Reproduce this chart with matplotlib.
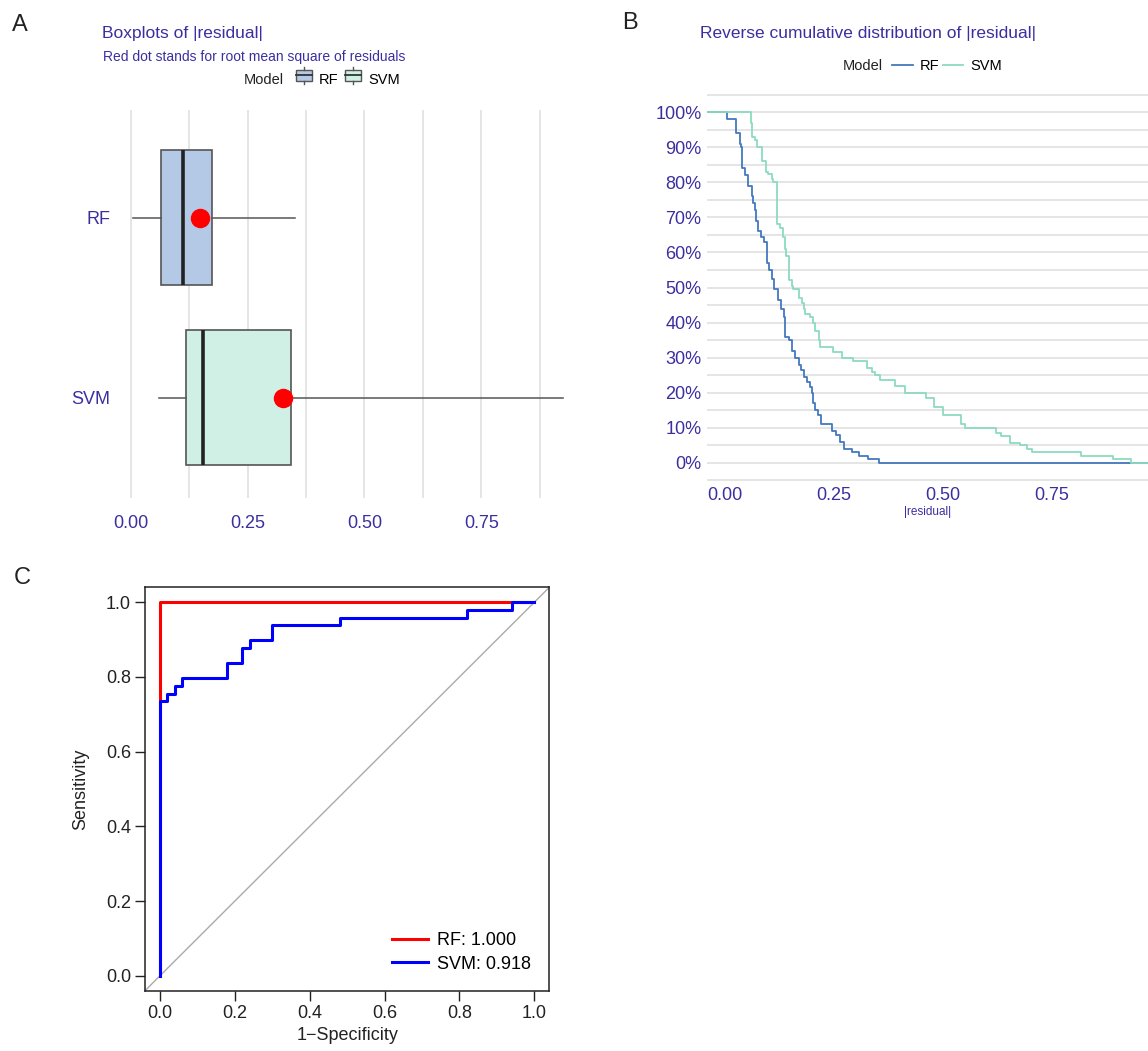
import numpy as np
import matplotlib
matplotlib.use("Agg")
import matplotlib.pyplot as plt
from matplotlib.lines import Line2D
from matplotlib.patches import Rectangle
from matplotlib.legend_handler import HandlerBase

# -----------------------------
# Data
# -----------------------------
MODELS = ["RF", "SVM"]

# boxplot stats of |residual|
BOX_WHISLO = [0.006, 0.060]
BOX_Q1 = [0.065, 0.119]
BOX_MED = [0.112, 0.155]
BOX_Q3 = [0.175, 0.342]
BOX_WHISHI = [0.351, 0.925]
RMSE = [0.148, 0.326]

# reverse cumulative distribution (step breakpoints, value after each break)
RF_X = [0.006, 0.027, 0.035, 0.038, 0.040, 0.041, 0.048, 0.055, 0.062, 0.066,
        0.069, 0.072, 0.077, 0.083, 0.091, 0.098, 0.103, 0.109, 0.113, 0.122,
        0.130, 0.136, 0.139, 0.148, 0.155, 0.161, 0.170, 0.175, 0.182, 0.188,
        0.195, 0.200, 0.203, 0.207, 0.214, 0.222, 0.247, 0.255, 0.265, 0.273,
        0.292, 0.307, 0.328, 0.355]
RF_Y = [0.98, 0.94, 0.91, 0.90, 0.87, 0.84, 0.82, 0.79, 0.76, 0.74,
        0.72, 0.69, 0.66, 0.645, 0.63, 0.57, 0.55, 0.525, 0.495, 0.465,
        0.44, 0.415, 0.36, 0.35, 0.32, 0.30, 0.28, 0.265, 0.245, 0.23,
        0.215, 0.20, 0.17, 0.15, 0.135, 0.11, 0.09, 0.08, 0.06, 0.04,
        0.03, 0.02, 0.01, 0.0]
SVM_X = [0.060, 0.064, 0.071, 0.075, 0.086, 0.096, 0.100, 0.108, 0.112, 0.121,
         0.128, 0.134, 0.138, 0.141, 0.147, 0.154, 0.158, 0.170, 0.178, 0.183,
         0.185, 0.197, 0.203, 0.208, 0.216, 0.219, 0.249, 0.269, 0.294, 0.326,
         0.337, 0.345, 0.356, 0.390, 0.413, 0.462, 0.481, 0.500, 0.542, 0.552,
         0.621, 0.634, 0.655, 0.676, 0.692, 0.705, 0.817, 0.890, 0.932]
SVM_Y = [0.97, 0.93, 0.92, 0.90, 0.86, 0.83, 0.825, 0.81, 0.80, 0.68,
         0.67, 0.645, 0.61, 0.59, 0.52, 0.505, 0.495, 0.47, 0.455, 0.44,
         0.425, 0.415, 0.40, 0.375, 0.35, 0.33, 0.315, 0.30, 0.29, 0.27,
         0.26, 0.25, 0.235, 0.22, 0.20, 0.185, 0.16, 0.135, 0.11, 0.10,
         0.085, 0.075, 0.055, 0.05, 0.04, 0.03, 0.02, 0.01, 0.0]

# ROC curves
RF_FPR = [0.0, 0.0, 1.0]
RF_TPR = [0.0, 1.0, 1.0]
SVM_FPR = [0.0, 0.0, 0.02, 0.04, 0.06, 0.18, 0.22, 0.24, 0.30, 0.48, 0.82, 0.94, 1.00]
SVM_TPR = [0.0, 0.735, 0.755, 0.776, 0.796, 0.837, 0.878, 0.898, 0.939, 0.959, 0.980, 1.0, 1.0]
AUC = [1.000, 0.918]

# -----------------------------
# Style
# -----------------------------
plt.rcParams["font.family"] = ["Liberation Sans", "DejaVu Sans"]
DRWHY = "#3b2fa0"
GRID = "#e3e3e3"
LINE_COLS = ["#4378bf", "#8bdcbe"]
BOX_FILLS = ["#b4c9e5", "#d1f0e5"]
W, H = 1148, 1051


def fx(px):
    return px / W


def fy(py):
    return 1 - py / H


class HandlerBoxKey(HandlerBase):
    """Small boxplot glyph for the legend."""
    def create_artists(self, legend, orig, xd, yd, width, height, fontsize, trans):
        fc = orig.get_facecolor()
        cx = xd + width / 2
        x0, x1 = xd + width * 0.08, xd + width * 0.92
        y0, y1 = yd + height * 0.12, yd + height * 0.88
        box = Rectangle((x0, y0), x1 - x0, y1 - y0,
                        facecolor=fc, edgecolor="#555555", lw=1.0, transform=trans)
        mid = Line2D([x0, x1], [yd + height / 2] * 2,
                     color="#333333", lw=1.3, transform=trans)
        top = Line2D([cx, cx], [y1, yd + height * 1.1],
                     color="#555555", lw=1.0, transform=trans)
        bot = Line2D([cx, cx], [yd - height * 0.1, y0],
                     color="#555555", lw=1.0, transform=trans)
        return [box, mid, top, bot]


def plot_boxplots(fig):
    ax = fig.add_axes([fx(112), fy(498), fx(472), 388 / H])
    stats = []
    for i, m in enumerate(MODELS):
        stats.append(dict(label=m, whislo=BOX_WHISLO[i], q1=BOX_Q1[i], med=BOX_MED[i],
                          q3=BOX_Q3[i], whishi=BOX_WHISHI[i], fliers=[]))
    pos = [2, 1]
    bp = ax.bxp(stats, positions=pos, widths=0.75, orientation="horizontal",
                patch_artist=True, showcaps=False, showfliers=False,
                boxprops=dict(edgecolor="#555555", linewidth=1.2),
                whiskerprops=dict(color="#555555", linewidth=1.1),
                medianprops=dict(color="#222222", linewidth=2.6))
    for patch, c in zip(bp["boxes"], BOX_FILLS):
        patch.set_facecolor(c)
    ax.plot(RMSE, pos, "o", color="red", markersize=13, zorder=5)

    ax.set_xlim(-0.04, 0.97)
    ax.set_ylim(0.444, 2.6)
    ax.set_xticks([0, 0.25, 0.5, 0.75])
    ax.set_xticklabels(["0.00", "0.25", "0.50", "0.75"])
    ax.set_xticks(np.arange(0.125, 0.9, 0.25), minor=True)
    ax.set_yticks(pos)
    ax.set_yticklabels(MODELS)
    ax.grid(axis="x", which="both", color=GRID, lw=1.3)
    ax.set_axisbelow(True)
    ax.tick_params(which="both", length=0, labelsize=13, colors=DRWHY)
    ax.tick_params(axis="x", pad=12)
    ax.tick_params(axis="y", pad=1)
    for s in ax.spines.values():
        s.set_visible(False)

    fig.text(fx(102), fy(33), "Boxplots of |residual|", color=DRWHY, fontsize=12.5, va="center")
    fig.text(fx(103), fy(57), "Red dot stands for root mean square of residuals",
             color=DRWHY, fontsize=10, va="center")
    fig.text(fx(244), fy(80), "Model", fontsize=10.5, va="center", color="#222222")
    handles = [Rectangle((0, 0), 1, 1, facecolor=c) for c in BOX_FILLS]
    fig.legend(handles, MODELS, loc="center left", bbox_to_anchor=(fx(287), fy(80)),
               ncol=2, frameon=False, fontsize=10.5, handlelength=1.3, handleheight=1.1,
               handletextpad=0.4, columnspacing=0.3, borderpad=0,
               handler_map={Rectangle: HandlerBoxKey()})


def plot_reverse_cdf(fig):
    ax = fig.add_axes([fx(707), fy(481), fx(441), 387 / H])
    xl = (-0.04, 0.97)
    for xs, ys, col in [(RF_X, RF_Y, LINE_COLS[0]), (SVM_X, SVM_Y, LINE_COLS[1])]:
        ax.step([xl[0]] + xs + [xl[1]], [1.0] + ys + [0.0], where="post", color=col, lw=1.3)
    ax.set_xlim(*xl)
    ax.set_ylim(-0.052, 1.052)
    ax.set_xticks([0, 0.25, 0.5, 0.75])
    ax.set_xticklabels(["0.00", "0.25", "0.50", "0.75"])
    yt = np.arange(0, 1.01, 0.1)
    ax.set_yticks(yt)
    ax.set_yticklabels([f"{int(round(v * 100))}%" for v in yt])
    ax.set_yticks(np.arange(-0.05, 1.06, 0.1), minor=True)
    ax.grid(axis="y", which="both", color=GRID, lw=1.3)
    ax.set_axisbelow(True)
    ax.tick_params(which="both", length=0, labelsize=13, colors=DRWHY, pad=4)
    for s in ax.spines.values():
        s.set_visible(False)
    ax.set_xlabel("|residual|", fontsize=8.5, color=DRWHY, labelpad=2)

    fig.text(fx(700), fy(33), "Reverse cumulative distribution of |residual|",
             color=DRWHY, fontsize=12.5, va="center")
    fig.text(fx(843), fy(66), "Model", fontsize=10.5, va="center", color="#222222")
    handles = [Line2D([], [], color=c, lw=1.3) for c in LINE_COLS]
    fig.legend(handles, MODELS, loc="center left", bbox_to_anchor=(fx(885), fy(66)),
               ncol=2, frameon=False, fontsize=10.5, handlelength=1.4,
               handletextpad=0.5, columnspacing=0.2, borderpad=0)


def plot_roc(fig):
    ax = fig.add_axes([fx(145), fy(990.7), 404.3 / W, 403.4 / H])
    ax.plot([-0.1, 1.1], [-0.1, 1.1], color="#aaaaaa", lw=1.0)
    ax.step(RF_FPR, RF_TPR, where="post", color="#ff0000", lw=2.2,
            label=f"RF: {AUC[0]:.3f}")
    ax.step(SVM_FPR, SVM_TPR, where="post", color="#0000ff", lw=2.2,
            label=f"SVM: {AUC[1]:.3f}")
    ax.set_xlim(-0.04, 1.04)
    ax.set_ylim(-0.04, 1.04)
    ticks = np.arange(0, 1.01, 0.2)
    ax.set_xticks(ticks)
    ax.set_yticks(ticks)
    ax.set_xticklabels([f"{t:.1f}" for t in ticks])
    ax.set_yticklabels([f"{t:.1f}" for t in ticks])
    ax.tick_params(direction="out", length=7, width=1, labelsize=13, colors="#222222", pad=3)
    for s in ax.spines.values():
        s.set_color("#222222")
        s.set_linewidth(1.1)
    ax.set_xlabel("1\u2212Specificity", fontsize=13, color="#222222", labelpad=4)
    ax.set_ylabel("Sensitivity", fontsize=13, color="#222222", labelpad=12)
    ax.legend(loc="lower right", frameon=False, fontsize=13, handlelength=2.0,
              handletextpad=0.5, borderaxespad=0.6, labelspacing=0.35)


def main():
    fig = plt.figure(figsize=(W / 100, H / 100), dpi=100)
    plot_boxplots(fig)
    plot_reverse_cdf(fig)
    plot_roc(fig)
    for lab, x, y in [("A", 20, 25), ("B", 630, 23), ("C", 22, 578)]:
        fig.text(fx(x), fy(y), lab, fontsize=17, ha="center", va="center", color="#222222")
    fig.savefig("out.png", dpi=100)


if __name__ == "__main__":
    main()
